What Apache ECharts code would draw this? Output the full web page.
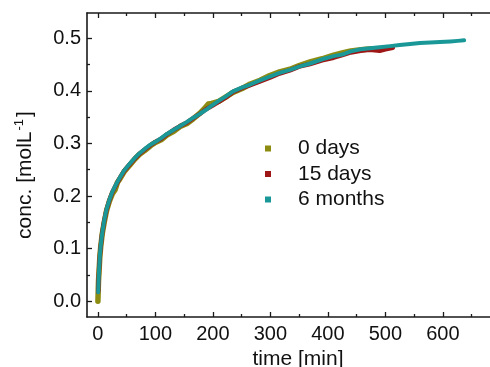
<!DOCTYPE html>
<html>
<head>
<meta charset="utf-8">
<script src="https://cdn.jsdelivr.net/npm/echarts@6/dist/echarts.min.js"></script>
<style>html,body{margin:0;padding:0;background:#fff}#c{width:490px;height:367px}</style>
</head>
<body>
<div id="c"></div>
<script>
// series names
const seriesNames = ['0 days', '15 days', '6 months'];
// [time (min), conc (mol/L)]
const days0 = [[0,0.000],[0.5,0.020],[1,0.038],[2,0.058],[3.5,0.087],[5,0.105],[7.5,0.128],[11,0.150],[15,0.172],[20,0.190],[25,0.204],[30,0.212],[34,0.226],[38,0.232],[46,0.247],[55,0.258],[64,0.270],[72,0.279],[82,0.287],[92,0.296],[100,0.302],[110,0.307],[120,0.316],[132,0.323],[143,0.332],[155,0.338],[166,0.347],[177,0.357],[185,0.366],[192,0.375],[198,0.376],[210,0.380],[222,0.388],[235,0.397],[250,0.404],[265,0.413],[282,0.420],[299,0.429],[316,0.436],[334,0.441],[350,0.448],[369,0.455],[390,0.461],[410,0.468],[425,0.472],[440,0.476],[457,0.478],[476,0.480]];
const days15 = [[0.5,0.018],[1,0.036],[2,0.060],[3.5,0.088],[5,0.106],[7.5,0.130],[11,0.153],[15,0.174],[20,0.192],[25,0.207],[30,0.218],[38,0.234],[46,0.248],[55,0.260],[64,0.271],[72,0.280],[82,0.289],[92,0.297],[100,0.303],[110,0.309],[120,0.317],[132,0.326],[143,0.333],[155,0.340],[166,0.348],[177,0.356],[188,0.365],[198,0.371],[210,0.379],[222,0.387],[235,0.398],[250,0.405],[265,0.411],[282,0.418],[299,0.425],[316,0.433],[334,0.439],[350,0.446],[369,0.451],[390,0.458],[410,0.463],[425,0.468],[440,0.473],[457,0.476],[473,0.478],[490,0.476],[500,0.479],[513,0.482]];
const months6 = [[0.5,0.017],[1,0.036],[2,0.060],[3.5,0.089],[5,0.107],[7.5,0.130],[11,0.154],[15,0.175],[20,0.193],[25,0.208],[30,0.219],[38,0.235],[46,0.249],[55,0.261],[64,0.272],[72,0.281],[82,0.290],[92,0.298],[100,0.303],[110,0.310],[120,0.318],[132,0.326],[143,0.333],[155,0.341],[166,0.349],[177,0.356],[188,0.364],[198,0.372],[210,0.381],[222,0.389],[235,0.399],[250,0.406],[265,0.412],[282,0.420],[299,0.427],[316,0.434],[334,0.440],[350,0.446],[369,0.452],[390,0.460],[410,0.466],[425,0.469],[440,0.475],[457,0.479],[473,0.481],[490,0.483],[508,0.485],[525,0.487],[543,0.489],[560,0.491],[578,0.492],[595,0.493],[613,0.494],[626,0.495],[637,0.496]];
// tick values
const xMajor = [0,100,200,300,400,500,600];
const xMinor = [50,150,250,350,450,550,650];
const yMajor = [0,0.1,0.2,0.3,0.4,0.5];
const yMinor = [0.05,0.15,0.25,0.35,0.45,0.55];

const colors = ['#8c8c12', '#9e1616', '#1a9898'];
const widths = [5.5, 4.5, 4];
const axisColor = '#1a1a1a';
const font = 'Liberation Sans, Arial, sans-serif';
const X_MIN = -19, X_MAX = 682, Y_MIN = -0.03, Y_MAX = 0.548;

function xAx(pos, ticks, len, showLine, label, extra) {
  return Object.assign({
    type: 'value', min: X_MIN, max: X_MAX, position: pos,
    axisLine: {show: showLine, onZero: false, lineStyle: {color: axisColor, width: 1.6}},
    axisTick: {show: true, inside: true, length: len, customValues: ticks, lineStyle: {color: axisColor, width: 1.3}},
    axisLabel: label ? {show: true, customValues: ticks, fontSize: 20, color: '#111', fontFamily: font, margin: 7} : {show: false},
    splitLine: {show: false}
  }, extra || {});
}
function yAx(ticks, len, showLine, label, extra) {
  return Object.assign({
    type: 'value', min: Y_MIN, max: Y_MAX, position: 'left',
    axisLine: {show: showLine, onZero: false, lineStyle: {color: axisColor, width: 1.6}},
    axisTick: {show: true, inside: true, length: len, customValues: ticks, lineStyle: {color: axisColor, width: 1.3}},
    axisLabel: label ? {show: true, customValues: ticks, fontSize: 20, color: '#111', fontFamily: font, margin: 6,
      formatter: v => v.toFixed(1)} : {show: false},
    splitLine: {show: false}
  }, extra || {});
}

const chart = echarts.init(document.getElementById('c'), null, {renderer: 'canvas'});
const datasets = [days0, days15, months6];
chart.setOption({
  animation: false,
  backgroundColor: '#fff',
  grid: {left: 87, right: 0, top: 13, bottom: 50, containLabel: false, outerBoundsMode: 'none'},
  xAxis: [
    xAx('bottom', xMajor, 5, true, true, {
      name: 'time [min]', nameLocation: 'middle', nameGap: 29,
      nameTextStyle: {fontSize: 21, color: '#111', fontFamily: font, padding: [0, 0, 0, 19], lineHeight: 21}
    }),
    xAx('bottom', xMinor, 3, false, false),
    xAx('top', xMajor, 5, true, false),
    xAx('top', xMinor, 3, false, false)
  ],
  yAxis: [
    yAx(yMajor, 5, true, true, {
      name: '{m|conc. [molL}{s|-1}{m|]}', nameLocation: 'middle', nameGap: 50, nameRotate: 90,
      nameTextStyle: {
        padding: [0, 20, 0, 0],
        rich: {
          m: {fontSize: 21, color: '#111', fontFamily: font, lineHeight: 24},
          s: {fontSize: 13, color: '#111', fontFamily: font, verticalAlign: 'top', lineHeight: 24, padding: [0, 2, 0, 1]}
        }
      }
    }),
    yAx(yMinor, 3, false, false)
  ],
  legend: {
    orient: 'vertical', left: 265, top: 138, padding: 0, itemGap: 4.5,
    itemWidth: 6, itemHeight: 6, icon: 'rect',
    textStyle: {fontSize: 21, color: '#111', fontFamily: font, lineHeight: 21, padding: [0, 0, 0, 22]},
    data: seriesNames
  },
  series: datasets.map((d, i) => ({
    name: seriesNames[i], type: 'line', data: d, xAxisIndex: 0, yAxisIndex: 0,
    showSymbol: false, symbol: 'rect', smooth: false,
    itemStyle: {color: colors[i]},
    lineStyle: {color: colors[i], width: widths[i], join: 'round', cap: 'round'},
    z: 2 + i
  }))
});
</script>
</body>
</html>
